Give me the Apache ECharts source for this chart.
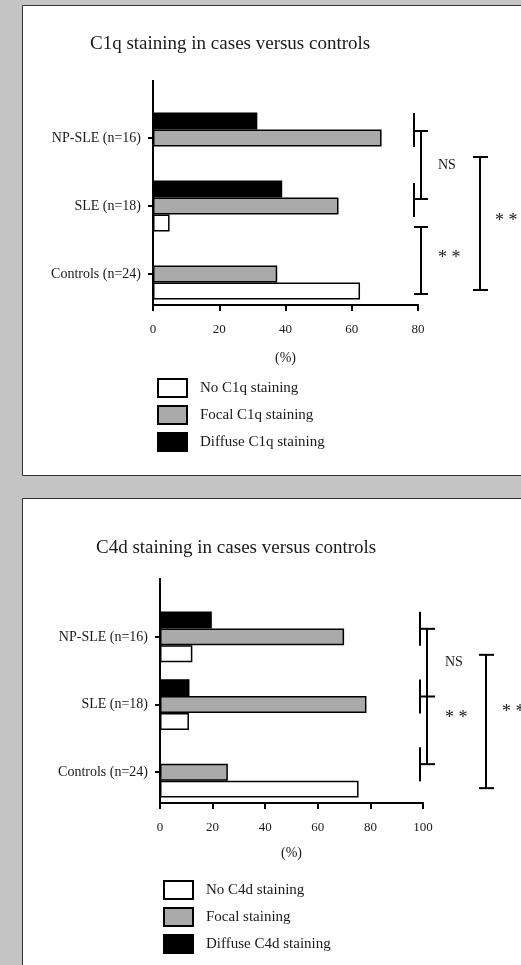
<!DOCTYPE html>
<html>
<head>
<meta charset="utf-8">
<script src="https://cdn.jsdelivr.net/npm/echarts@6/dist/echarts.min.js"></script>
<style>
  html, body { margin: 0; padding: 0; }
  #chart { width: 521px; height: 965px; }
</style>
</head>
<body>
<div id="chart"></div>
<script>
// categories, bottom to top
const groups = ['Controls (n=24)', 'SLE (n=18)', 'NP-SLE (n=16)']

// C1q panel
const c1qTitle = 'C1q staining in cases versus controls'
const c1qNames = ['No C1q staining', 'Focal C1q staining', 'Diffuse C1q staining']
const c1qNone = [62.5, 5, 0]
const c1qFocal = [37.5, 56, 69]
const c1qDiffuse = [0, 39, 31.5]

// C4d panel
const c4dTitle = 'C4d staining in cases versus controls'
const c4dNames = ['No C4d staining', 'Focal staining', 'Diffuse C4d staining']
const c4dNone = [75.5, 11, 12.3]
const c4dFocal = [25.8, 78.5, 70]
const c4dDiffuse = [0, 11.2, 19.7]

const FONT = 'Liberation Serif'
const INK = '#1a1a1a'
const fills = ['#ffffff', '#aaaaaa', '#000000']

const chart = echarts.init(document.getElementById('chart'), null, { renderer: 'canvas' })

function xAxis(gridIndex, max, nameGap) {
  return {
    type: 'value', gridIndex, min: 0, max, interval: 20, offset: -3,
    name: '(%)', nameLocation: 'middle', nameGap,
    nameTextStyle: { fontFamily: FONT, fontSize: 14, color: INK },
    splitLine: { show: false },
    axisLine: { show: true, lineStyle: { color: '#000', width: 2 } },
    axisTick: { show: true, length: 6, lineStyle: { color: '#000', width: 2 } },
    axisLabel: { fontFamily: FONT, fontSize: 13, color: INK, margin: 18 },
  }
}

function yAxis(gridIndex) {
  return {
    type: 'category', gridIndex, data: groups,
    axisLine: { show: true, lineStyle: { color: '#000', width: 2 } },
    axisTick: { show: true, length: 5, alignWithLabel: true, lineStyle: { color: '#000', width: 2 } },
    axisLabel: { fontFamily: FONT, fontSize: 14, color: INK, margin: 12 },
  }
}

// horizontal bars stack top-down in series order, so the diffuse series goes first
function bars(names, lists, idx) {
  return [2, 1, 0].map(i => ({
    name: names[i],
    type: 'bar',
    xAxisIndex: idx,
    yAxisIndex: idx,
    data: lists[i],
    barCategoryGap: '25%',
    barGap: '0%',
    itemStyle: { color: fills[i], borderColor: '#000', borderWidth: 1.5 },
    emphasis: { disabled: true },
  }))
}

function legend(names, left, top) {
  return {
    data: names, orient: 'vertical', left, top, padding: 0,
    itemWidth: 29, itemHeight: 18, itemGap: 7, icon: 'rect',
    selectedMode: false,
    textStyle: { fontFamily: FONT, fontSize: 15, lineHeight: 18, color: INK, padding: [0, 0, 0, 8] },
  }
}

chart.setOption({
  backgroundColor: '#c4c4c4',
  animation: false,
  title: [
    { text: c1qTitle, left: 90, top: 35, padding: 0, textStyle: { fontFamily: FONT, fontSize: 19, fontWeight: 'normal', color: INK } },
    { text: c4dTitle, left: 96, top: 539, padding: 0, textStyle: { fontFamily: FONT, fontSize: 19, fontWeight: 'normal', color: INK } },
  ],
  legend: [
    legend(c1qNames, 157, 378),
    legend(c4dNames, 163, 880),
  ],
  grid: [
    { left: 153, top: 104, width: 265, height: 204 },
    { left: 160, top: 603, width: 263, height: 203 },
  ],
  xAxis: [xAxis(0, 80, 46), xAxis(1, 100, 43)],
  yAxis: [yAxis(0), yAxis(1)],
  series: [
    ...bars(c1qNames, [c1qNone, c1qFocal, c1qDiffuse], 0),
    ...bars(c4dNames, [c4dNone, c4dFocal, c4dDiffuse], 1),
  ],
})

// annotations: panels, axis extensions, significance brackets
const line = (x1, y1, x2, y2) => ({
  type: 'line', shape: { x1, y1, x2, y2 }, style: { stroke: '#000', lineWidth: 2 }, z: 10,
})
const label = (x, y, text, size) => ({
  type: 'text', x, y, z: 10,
  style: { text, fontFamily: FONT, fontSize: size, fill: INK, verticalAlign: 'middle' },
})
const px = (g, v, i) => chart.convertToPixel({ xAxisIndex: g, yAxisIndex: g }, [v, i])

const els = [
  { type: 'rect', z: -1, shape: { x: 22.5, y: 5.5, width: 520, height: 470 }, style: { fill: '#fff', stroke: '#333', lineWidth: 1 } },
  { type: 'rect', z: -1, shape: { x: 22.5, y: 498.5, width: 520, height: 480 }, style: { fill: '#fff', stroke: '#333', lineWidth: 1 } },
]

// C1q brackets
{
  const left = px(0, 0, 0)[0]
  const right = px(0, 80, 0)[0]
  const cy = [0, 1, 2].map(i => px(0, 0, i)[1])
  els.push(line(left, 80, left, 104))
  const mx = right - 4, bx = mx + 7, ce = mx + 14, big = mx + 66
  els.push(line(mx, cy[2] - 25, mx, cy[2] + 9))
  els.push(line(mx, cy[1] - 23, mx, cy[1] + 11))
  const t1 = cy[2] - 7, b1 = cy[1] - 7
  els.push(line(bx, t1, bx, b1), line(mx, t1, ce, t1), line(mx, b1, ce, b1))
  els.push(label(mx + 24, (t1 + b1) / 2, 'NS', 14))
  const t2 = cy[1] + 21, b2 = cy[0] + 20
  els.push(line(bx, t2, bx, b2), line(mx, t2, ce, t2), line(mx, b2, ce, b2))
  els.push(label(mx + 24, cy[0] - 16, '* *', 18))
  const t3 = cy[2] + 19, b3 = cy[0] + 16
  els.push(line(big, t3, big, b3), line(big - 7, t3, big + 8, t3), line(big - 7, b3, big + 8, b3))
  els.push(label(big + 15, cy[1] + 15, '* *', 18))
}

// C4d brackets
{
  const left = px(1, 0, 0)[0]
  const right = px(1, 100, 0)[0]
  const cy = [0, 1, 2].map(i => px(1, 0, i)[1])
  els.push(line(left, 578, left, 603))
  const mx = right - 3, bx = mx + 7, ce = mx + 15, big = mx + 66
  cy.forEach(c => els.push(line(mx, c - 25, mx, c + 9), line(mx, c - 8, ce, c - 8)))
  els.push(line(bx, cy[2] - 8, bx, cy[0] - 8))
  els.push(label(mx + 25, (cy[2] + cy[1]) / 2 - 8, 'NS', 14))
  els.push(label(mx + 25, cy[1] + 14, '* *', 18))
  const t3 = cy[2] + 18, b3 = cy[0] + 16
  els.push(line(big, t3, big, b3), line(big - 7, t3, big + 8, t3), line(big - 7, b3, big + 8, b3))
  els.push(label(big + 16, cy[1] + 8, '* *', 18))
}

chart.setOption({ graphic: els })
</script>
</body>
</html>
